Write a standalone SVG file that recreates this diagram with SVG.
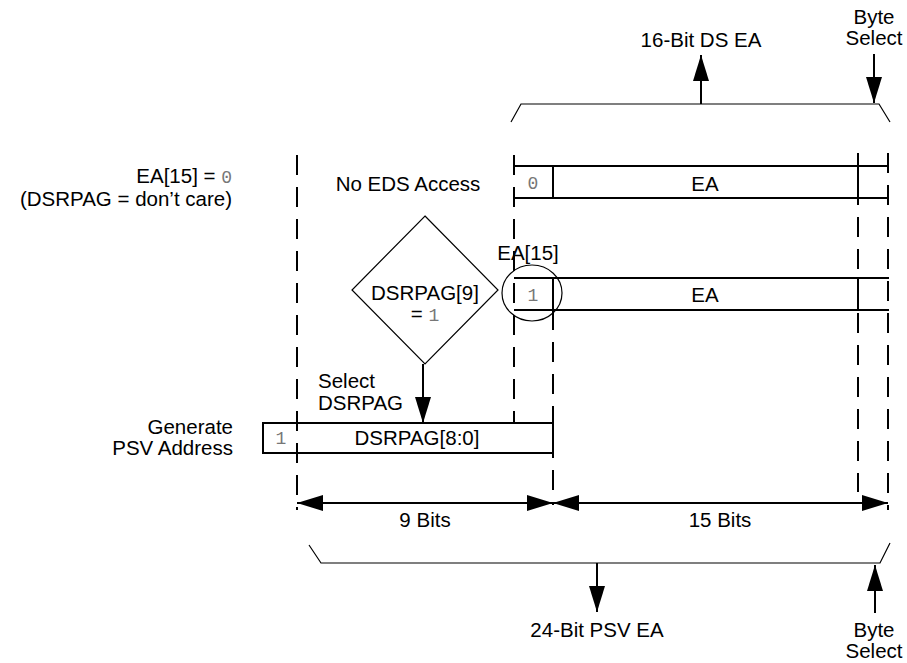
<svg xmlns="http://www.w3.org/2000/svg" width="907" height="663" viewBox="0 0 907 663">
<style>
text{font-family:"Liberation Sans",Arial,sans-serif;font-size:20.5px;fill:#000}
.m{font-family:"Liberation Mono","Courier New",monospace;font-size:18px;fill:#777}
.c{text-anchor:middle}
.r{text-anchor:end}
.ln{stroke:#000;stroke-width:2;fill:none}
.th{stroke:#000;stroke-width:1.2;fill:none}
.ds{stroke:#000;stroke-width:2;fill:none;stroke-dasharray:20,12}
.ar{stroke:#000;stroke-width:2;fill:none;marker-end:url(#ah)}
.dim{stroke:#000;stroke-width:2;fill:none;marker-start:url(#ah);marker-end:url(#ah)}
</style>
<defs>
<marker id="ah" markerUnits="userSpaceOnUse" markerWidth="26" markerHeight="16" refX="26" refY="8" orient="auto-start-reverse" viewBox="0 0 26 16">
<path d="M0,0 L26,8 L0,16 z" fill="#000"/>
</marker>
</defs>
<rect width="907" height="663" fill="#fff"/>

<g id="guides">
<line class="ds" x1="297" y1="155" x2="297" y2="510"/>
<line class="ds" x1="514" y1="155" x2="514" y2="423"/>
<line class="ds" x1="553" y1="310" x2="553" y2="505"/>
<line class="ds" x1="858" y1="153" x2="858" y2="492"/>
<line class="ds" x1="888" y1="153" x2="888" y2="510"/>
</g>

<g id="ds-ea-brace">
<path class="th" d="M511,122 L521,104 L879,104 L890,122"/>
<text class="c" x="701" y="47">16-Bit DS EA</text>
<text class="c" x="874" y="24">Byte</text>
<text class="c" x="874" y="45">Select</text>
</g>

<g id="left-labels">
<text class="r" x="232" y="183">EA[15] = <tspan class="m">0</tspan></text>
<text class="r" x="232" y="206">(DSRPAG = don’t care)</text>
<text class="r" x="233" y="434">Generate</text>
<text class="r" x="233" y="455">PSV Address</text>
</g>

<g id="row-no-eds">
<text class="c" x="408" y="191">No EDS Access</text>
<line class="ln" x1="514" y1="166" x2="889" y2="166"/>
<line class="ln" x1="514" y1="198" x2="889" y2="198"/>
<line class="ln" x1="553" y1="166" x2="553" y2="198"/>
<line class="ln" x1="858" y1="166" x2="858" y2="198"/>
<line class="ln" x1="888" y1="155" x2="888" y2="166"/>
<text class="m c" x="533" y="189">0</text>
<text class="c" x="705" y="191">EA</text>
</g>

<g id="row-eds">
<line class="ln" x1="514" y1="278" x2="889" y2="278"/>
<line class="ln" x1="514" y1="310" x2="889" y2="310"/>
<line class="ln" x1="553" y1="278" x2="553" y2="310"/>
<line class="ln" x1="858" y1="278" x2="858" y2="310"/>
<text class="m c" x="533" y="301">1</text>
<text class="c" x="705" y="302">EA</text>
<ellipse class="th" cx="532" cy="293" rx="30" ry="28"/>
<text class="c" x="528" y="260">EA[15]</text>
</g>

<g id="decision">
<polygon class="th" points="425,216 498,290 425,364 352,290"/>
<text class="c" x="425" y="300">DSRPAG[9]</text>
<text class="c" x="425" y="321">= <tspan class="m">1</tspan></text>
</g>

<g id="psv-box">
<rect class="ln" x="263" y="423" width="290" height="30"/>
<text class="m c" x="281" y="444">1</text>
<text class="c" x="417" y="445">DSRPAG[8:0]</text>
</g>

<g id="select-label">
<text x="318" y="388">Select</text>
<text x="318" y="410">DSRPAG</text>
</g>

<g id="dimensions">
<text class="c" x="425" y="527">9 Bits</text>
<text class="c" x="720" y="527">15 Bits</text>
</g>

<g id="psv-ea-brace">
<path class="th" d="M309,545 L321,563 L880,563 L890,543"/>
<text class="c" x="597" y="637">24-Bit PSV EA</text>
<text class="c" x="874" y="637">Byte</text>
<text class="c" x="874" y="658">Select</text>
</g>

<g id="connectors">
<line class="ar" x1="701" y1="104" x2="701" y2="55"/>
<line class="ar" x1="874" y1="54" x2="874" y2="103"/>
<line class="ar" x1="423" y1="364" x2="423" y2="423"/>
<line class="ar" x1="597" y1="563" x2="597" y2="612"/>
<line class="ar" x1="875" y1="613" x2="875" y2="565"/>
<line class="dim" x1="297" y1="503" x2="553" y2="503"/>
<line class="dim" x1="553" y1="503" x2="888" y2="503"/>
</g>
</svg>
